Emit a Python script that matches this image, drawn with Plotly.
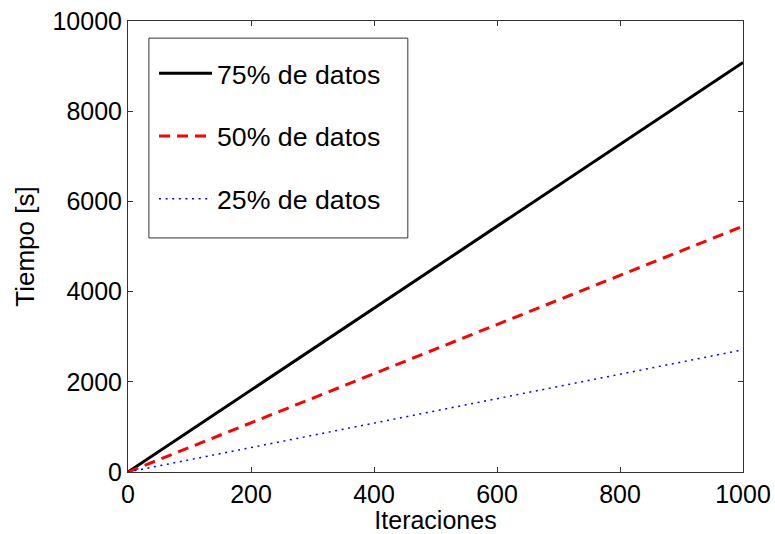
import plotly.graph_objects as go

iteraciones = [0, 200, 400, 600, 800, 1000]
t75 = [0, 1820, 3640, 5450, 7270, 9080]
t50 = [0, 1090, 2180, 3270, 4360, 5450]
t25 = [0, 545, 1090, 1630, 2170, 2710]
names = ["75% de datos", "50% de datos", "25% de datos"]
xticks = [0, 200, 400, 600, 800, 1000]
yticks = [0, 2000, 4000, 6000, 8000, 10000]

font = "Liberation Sans, Arial, sans-serif"
fig = go.Figure()
fig.add_trace(go.Scatter(x=iteraciones, y=t75, mode="lines", name=names[0],
                         line=dict(color="black", width=3), legendgroup="a"))
fig.add_trace(go.Scatter(x=iteraciones, y=t50, mode="lines", name=names[1],
                         line=dict(color="red", width=3, dash="11px,7px"), legendgroup="b"))
fig.add_trace(go.Scatter(x=iteraciones, y=t25, mode="lines", name=names[2],
                         line=dict(color="blue", width=1.5, dash="2px,4.6px"), legendgroup="c"))

axis_common = dict(showline=True, linecolor="#333", linewidth=1, mirror="ticks",
                   ticks="inside", ticklen=5, tickcolor="#333", showgrid=False,
                   zeroline=False, automargin=False,
                   tickfont=dict(size=25, color="black", family=font))
fig.update_layout(
    width=775, height=534,
    margin=dict(l=128, r=32, t=21, b=62),
    paper_bgcolor="white", plot_bgcolor="white",
    font=dict(family=font, color="black"),
    xaxis=dict(range=[0, 1000], tickvals=xticks, ticktext=[str(v) for v in xticks],
               title=dict(text="Iteraciones", font=dict(size=25), standoff=4), **axis_common),
    yaxis=dict(range=[0, 10000], tickvals=yticks, ticktext=[str(v) for v in yticks],
               title=dict(text="Tiempo [s]", font=dict(size=26), standoff=10), **axis_common),
    legend=dict(x=0.0423, y=0.937, xanchor="left", yanchor="top",
                borderwidth=0, bgcolor="rgba(0,0,0,0)",
                font=dict(size=26.7, family=font, color="black"),
                tracegroupgap=25, itemwidth=53),
    shapes=[dict(type="rect", xref="paper", yref="paper", x0=0.034, x1=0.455,
                 y0=0.519, y1=0.962, line=dict(color="#333", width=1),
                 fillcolor="white", layer="above")],
    showlegend=True,
)
fig.write_html("out.html")
